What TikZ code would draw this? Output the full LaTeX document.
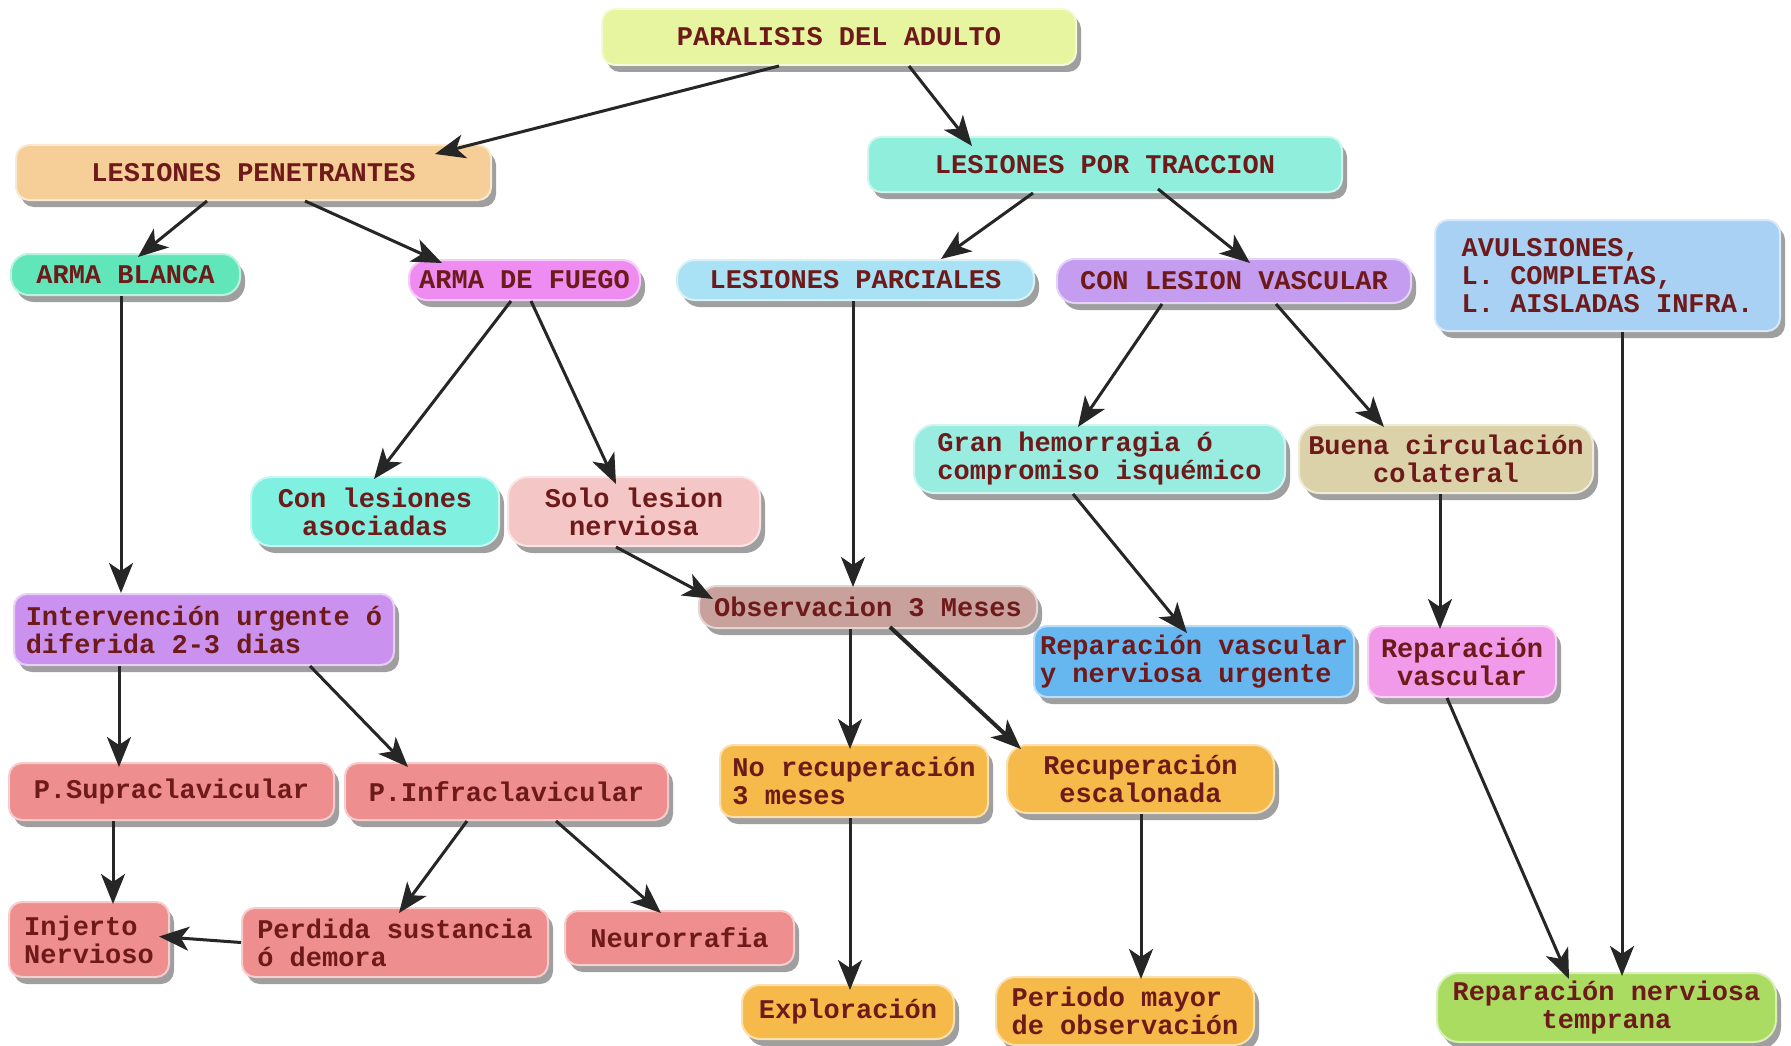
\documentclass[tikz,border=0pt]{standalone}
\usepackage{fontspec}
\newfontfamily\boxfont{Liberation Mono}
\usetikzlibrary{shadows,arrows.meta}
\definecolor{cPar}{HTML}{E8F5A0}
\definecolor{cPen}{HTML}{F5CE98}
\definecolor{cTrac}{HTML}{90EEDC}
\definecolor{cBlanca}{HTML}{60E6B8}
\definecolor{cFuego}{HTML}{EE8CF2}
\definecolor{cParc}{HTML}{A8E2F4}
\definecolor{cVasc}{HTML}{C49CF0}
\definecolor{cAvul}{HTML}{A9D1F4}
\definecolor{cGran}{HTML}{98ECE0}
\definecolor{cBuena}{HTML}{DCD2AA}
\definecolor{cConles}{HTML}{80F0E0}
\definecolor{cSolo}{HTML}{F5C6C6}
\definecolor{cObs}{HTML}{C8A09C}
\definecolor{cInterv}{HTML}{CA92EE}
\definecolor{cRepvn}{HTML}{66B6F0}
\definecolor{cRepv}{HTML}{F29AEA}
\definecolor{cRed}{HTML}{EE8E8E}
\definecolor{cOrange}{HTML}{F5BA4A}
\definecolor{cGreen}{HTML}{AADC62}
\definecolor{txt}{HTML}{6E1A1A}
\definecolor{lineC}{HTML}{262626}
\begin{document}
\begin{tikzpicture}[x=1pt,y=-1pt,
  box/.style={rounded corners=13pt, fill=#1, draw=#1!45!white, line width=2pt,
    drop shadow={shadow xshift=5pt, shadow yshift=-7pt, opacity=0.5, fill=black!75},
    font=\boxfont\bfseries\fontsize{27pt}{28pt}\selectfont, text=txt, inner sep=0pt, align=center},
  arr/.style={draw=lineC, line width=3pt, -{Stealth[length=30pt,width=24pt,inset=8pt]}},
  ]
\useasboundingbox[fill=white] (0,0) rectangle (1791,1046);

\node[box=cPar, minimum width=474pt, minimum height=56pt] (par) at (839,37) {PARALISIS DEL ADULTO};
\node[box=cPen, minimum width=475pt, minimum height=55pt] (pen) at (253.5,172.5) {LESIONES PENETRANTES};
\node[box=cTrac, minimum width=474pt, minimum height=55pt] (trac) at (1105,164.5) {LESIONES POR TRACCION};
\node[box=cBlanca, minimum width=229pt, minimum height=41pt, rounded corners=18pt] (blanca) at (125.5,274.5) {ARMA BLANCA};
\node[box=cFuego, minimum width=231pt, minimum height=40pt, rounded corners=18pt] (fuego) at (524.5,280) {ARMA DE FUEGO};
\node[box=cParc, minimum width=357pt, minimum height=40pt, rounded corners=18pt] (parc) at (855.5,280) {LESIONES PARCIALES};
\node[box=cVasc, minimum width=354pt, minimum height=44pt, rounded corners=18pt] (vasc) at (1234,281) {CON LESION VASCULAR};
\node[box=cAvul, minimum width=345pt, minimum height=111pt, align=left] (avul) at (1607.5,275.5) {AVULSIONES,\\L. COMPLETAS,\\L. AISLADAS INFRA.};
\node[box=cGran, minimum width=371pt, minimum height=68pt, align=left, rounded corners=20pt] (gran) at (1099.5,459) {Gran hemorragia ó\\compromiso isquémico};
\node[box=cBuena, minimum width=294pt, minimum height=68pt, rounded corners=20pt] (buena) at (1446,459) {Buena circulación\\colateral};
\node[box=cConles, minimum width=248pt, minimum height=69pt, rounded corners=20pt] (conles) at (375,511.5) {Con lesiones\\asociadas};
\node[box=cSolo, minimum width=252pt, minimum height=69pt, rounded corners=20pt] (solo) at (634,511.5) {Solo lesion\\nerviosa};
\node[box=cObs, minimum width=338pt, minimum height=42pt, rounded corners=18pt] (obs) at (868,607) {Observacion 3 Meses};
\node[box=cInterv, minimum width=380pt, minimum height=71pt, align=left] (interv) at (204,629.5) {Intervención urgente ó\\diferida 2-3 dias};
\node[box=cRepvn, minimum width=320pt, minimum height=71pt, align=left] (repvn) at (1194,661.5) {Reparación vascular\\y nerviosa urgente};
\node[box=cRepv, minimum width=188pt, minimum height=71pt] (repv) at (1462,661.5) {Reparación\\vascular};
\node[box=cRed, minimum width=325pt, minimum height=57pt] (supra) at (171.5,791.5) {P.Supraclavicular};
\node[box=cRed, minimum width=323pt, minimum height=57pt] (infra) at (506.5,791.5) {P.Infraclavicular};
\node[box=cOrange, minimum width=268pt, minimum height=72pt, align=left] (norec) at (854,781) {No recuperación\\3 meses};
\node[box=cOrange, minimum width=267pt, minimum height=68pt, rounded corners=20pt] (recesc) at (1140.5,779) {Recuperación\\escalonada};
\node[box=cRed, minimum width=160pt, minimum height=75pt, align=left] (injerto) at (89,939.5) {Injerto\\Nervioso};
\node[box=cRed, minimum width=306pt, minimum height=69pt, align=left] (perdida) at (395,942.5) {Perdida sustancia\\ó demora};
\node[box=cRed, minimum width=229pt, minimum height=54pt] (neuro) at (679.5,938) {Neurorrafia};
\node[box=cOrange, minimum width=212pt, minimum height=54pt, rounded corners=18pt] (explor) at (848,1012) {Exploración};
\node[box=cOrange, minimum width=258pt, minimum height=68pt, align=left, rounded corners=20pt] (periodo) at (1125,1011) {Periodo mayor\\de observación};
\node[box=cGreen, minimum width=339pt, minimum height=69pt, rounded corners=22pt] (reptemp) at (1606.5,1007.5) {Reparación nerviosa\\temprana};

\draw[arr] ([xshift=178pt]par.south west) -- ([xshift=420pt,yshift=-10pt]pen.north west);
\draw[arr] ([xshift=308pt]par.south west) -- ([xshift=105pt,yshift=-10pt]trac.north west);
\draw[arr] ([xshift=192pt]pen.south west) -- ([xshift=128pt,yshift=-4pt]blanca.north west);
\draw[arr] ([xshift=290pt]pen.south west) -- ([xshift=34pt,yshift=-4pt]fuego.north west);
\draw[arr] ([xshift=166pt]trac.south west) -- ([xshift=265pt]parc.north west);
\draw[arr] ([xshift=291pt,yshift=4pt]trac.south west) -- ([xshift=194pt,yshift=-5pt]vasc.north west);
\draw[arr] ([xshift=111pt]blanca.south west) -- ([xshift=108pt]interv.north west);
\draw[arr] ([xshift=103pt]fuego.south west) -- ([xshift=124pt,yshift=-3pt]conles.north west);
\draw[arr] ([xshift=123pt]fuego.south west) -- ([xshift=109pt,yshift=-8pt]solo.north west);
\draw[arr] ([xshift=177pt]parc.south west) -- ([xshift=155pt,yshift=-2pt]obs.north west);
\draw[arr] ([xshift=109pt]solo.south west) -- ([xshift=15pt,yshift=-14pt]obs.north west);
\draw[arr] ([xshift=106pt]vasc.south west) -- ([xshift=165pt,yshift=-3pt]gran.north west);
\draw[arr] ([xshift=220pt]vasc.south west) -- ([xshift=86pt,yshift=-3pt]buena.north west);
\draw[arr] ([xshift=188pt]avul.south west) -- ([xshift=186pt,yshift=-4pt]reptemp.north west);
\draw[arr] ([xshift=160pt]gran.south west) -- ([xshift=154pt,yshift=-8pt]repvn.north west);
\draw[arr] ([xshift=142pt]buena.south west) -- ([xshift=73pt,yshift=-4pt]repv.north west);
\draw[arr] ([xshift=152pt]obs.south west) -- ([xshift=131pt,yshift=-5pt]norec.north west);
\draw[arr, line width=4pt] ([xshift=192pt,yshift=2pt]obs.south west) -- ([xshift=15pt,yshift=-5pt]recesc.north west);
\draw[arr] ([xshift=106pt]interv.south west) -- ([xshift=111pt,yshift=-5pt]supra.north west);
\draw[arr] ([xshift=297pt]interv.south west) -- ([xshift=64pt,yshift=-5pt]infra.north west);
\draw[arr] ([xshift=105pt]supra.south west) -- ([xshift=105pt,yshift=-3pt]injerto.north west);
\draw[arr] ([xshift=123pt]infra.south west) -- ([xshift=158pt,yshift=-6pt]perdida.north west);
\draw[arr] ([xshift=212pt]infra.south west) -- ([xshift=97pt,yshift=-3pt]neuro.north west);
\draw[arr] (perdida.west) -- ([xshift=-11pt,yshift=3pt]injerto.east);
\draw[arr] ([xshift=131pt]norec.south west) -- ([xshift=109pt,yshift=-6pt]explor.north west);
\draw[arr] ([xshift=135pt]recesc.south west) -- ([xshift=146pt,yshift=-3pt]periodo.north west);
\draw[arr] ([xshift=80pt]repv.south west) -- ([xshift=133pt,yshift=-7pt]reptemp.north west);
\end{tikzpicture}
\end{document}
